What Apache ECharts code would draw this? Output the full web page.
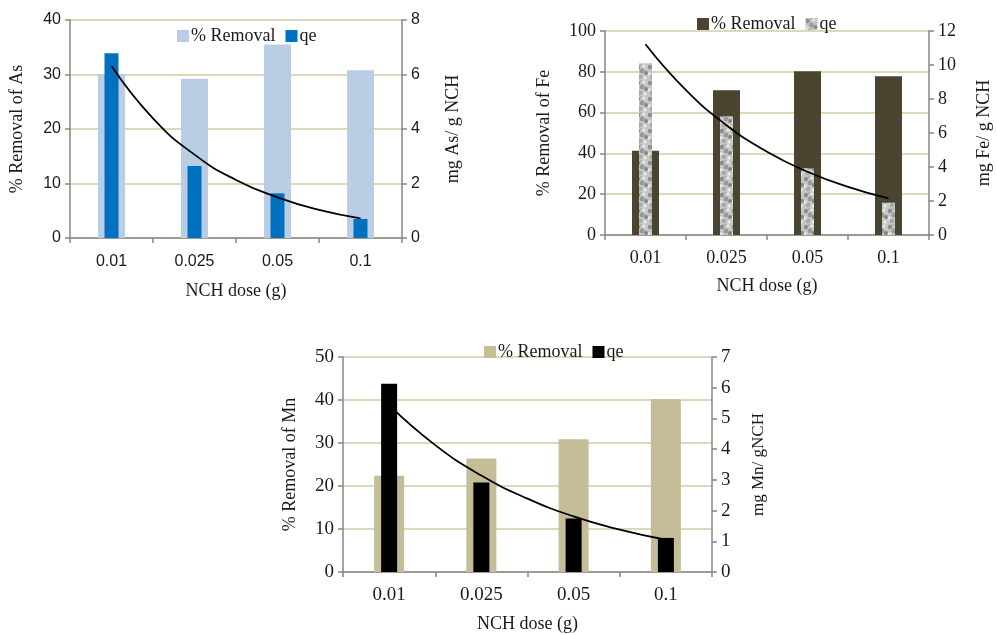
<!DOCTYPE html>
<html>
<head>
<meta charset="utf-8">
<script src="https://cdn.jsdelivr.net/npm/echarts@6/dist/echarts.min.js"></script>
<style>
  html, body { margin: 0; padding: 0; background: #fff; }
  #chart { width: 997px; height: 635px; }
</style>
</head>
<body>
<div id="chart"></div>
<script>
// categories
const doses = ['0.01', '0.025', '0.05', '0.1'];

// As panel
const asRemoval = [30.1, 29.2, 35.5, 30.8];
const asQe = [6.78, 2.64, 1.64, 0.70];
const asTrend = [6.31, 4.39, 3.06, 2.13, 1.49, 1.03, 0.72];

// Fe panel
const feRemoval = [41.3, 71.0, 80.3, 77.8];
const feQe = [10.1, 6.99, 3.92, 1.90];
const feTrend = [11.22, 8.52, 6.46, 4.90, 3.72, 2.83, 2.15];

// Mn panel
const mnRemoval = [22.4, 26.4, 30.9, 40.2];
const mnQe = [6.13, 2.91, 1.74, 1.11];
const mnTrend = [5.43, 4.13, 3.14, 2.39, 1.81, 1.38, 1.05];

// category positions where the trend curve was read
const trendPos = [0, 0.5, 1, 1.5, 2, 2.5, 3];

// grey speckled texture for the Fe qe bars
function speckle() {
  const c = document.createElement('canvas');
  c.width = 12; c.height = 16;
  const g = c.getContext('2d');
  g.fillStyle = '#c6c6c6';
  g.fillRect(0, 0, 12, 16);
  const spots = [
    [2, 3, 2.2, '#8e8e8e'], [8, 2, 1.6, '#eaeaea'], [6, 7, 2.4, '#9a9a9a'],
    [1, 10, 1.8, '#e6e6e6'], [10, 9, 2, '#858585'], [4, 13, 2.2, '#a8a8a8'],
    [9, 14, 1.5, '#efefef'], [5, 1, 1.2, '#b0b0b0']
  ];
  spots.forEach(([x, y, r, col]) => {
    g.fillStyle = col;
    g.beginPath();
    g.arc(x, y, r, 0, Math.PI * 2);
    g.fill();
  });
  return c;
}

const axisGrey = '#878787';
const gridCol = '#dcd8b8';
const textCol = '#1a1a1a';
const serif = 'Liberation Serif';

const panels = [
  {
    key: 'As', grid: { left: 70, top: 20, width: 332, height: 218 },
    removal: asRemoval, qe: asQe, trend: asTrend,
    remColor: '#b9cde5', qeColor: '#0070c0', remW: 27, qeW: 14,
    leftMax: 40, leftInt: 10, rightMax: 8, rightInt: 2,
    tickFont: 'Liberation Sans', tickSize: 16, xMargin: 16,
    leftName: '% Removal of As', rightName: 'mg As/ g NCH',
    leftGap: 44, rightGap: 42, xGap: 44, rightNameSize: 18,
    legend: { left: 172, top: 22 }
  },
  {
    key: 'Fe', grid: { left: 605, top: 31, width: 324, height: 204 },
    removal: feRemoval, qe: feQe, trend: feTrend,
    remColor: '#4a4530', qeColor: { image: speckle(), repeat: 'repeat' }, remW: 27, qeW: 13,
    leftMax: 100, leftInt: 20, rightMax: 12, rightInt: 2,
    tickFont: serif, tickSize: 18, xMargin: 14,
    leftName: '% Removal of Fe', rightName: 'mg Fe/ g NCH',
    leftGap: 52, rightGap: 46, xGap: 42, rightNameSize: 18,
    legend: { left: 692, top: 10 }
  },
  {
    key: 'Mn', grid: { left: 343, top: 357, width: 369, height: 215 },
    removal: mnRemoval, qe: mnQe, trend: mnTrend,
    remColor: '#c4bd97', qeColor: '#000000', remW: 30, qeW: 16,
    leftMax: 50, leftInt: 10, rightMax: 7, rightInt: 1,
    tickFont: serif, tickSize: 19, xMargin: 14,
    leftName: '% Removal of Mn', rightName: 'mg Mn/ gNCH',
    leftGap: 44, rightGap: 38, xGap: 43, rightNameSize: 17,
    legend: { left: 479, top: 338 }
  }
];

const option = {
  animation: false,
  backgroundColor: '#fff',
  textStyle: { fontFamily: serif, color: textCol },
  grid: [], xAxis: [], yAxis: [], series: [], legend: []
};

panels.forEach((p, i) => {
  const tickLabel = { fontFamily: p.tickFont, fontSize: p.tickSize, color: textCol };
  const nameStyle = { fontFamily: serif, fontSize: 18, color: textCol };
  option.grid.push(p.grid);

  // shown category axis, hidden twin for qe bars, hidden value axis for the trend
  option.xAxis.push({
    type: 'category', gridIndex: i, data: doses,
    axisLine: { onZero: false, lineStyle: { color: axisGrey, width: 1.5 } },
    axisTick: { show: true, length: 5, lineStyle: { color: axisGrey, width: 1.5 } },
    axisLabel: Object.assign({ margin: p.xMargin }, tickLabel),
    name: 'NCH dose (g)', nameLocation: 'middle', nameGap: p.xGap, nameTextStyle: nameStyle
  });
  option.xAxis.push({ type: 'category', gridIndex: i, data: doses, show: false });
  option.xAxis.push({ type: 'value', gridIndex: i, min: -0.5, max: 3.5, show: false });

  option.yAxis.push({
    type: 'value', gridIndex: i, position: 'left', min: 0, max: p.leftMax, interval: p.leftInt,
    axisLine: { show: true, onZero: false, lineStyle: { color: axisGrey, width: 1.5 } },
    axisTick: { show: true, length: 5, lineStyle: { color: axisGrey, width: 1.5 } },
    axisLabel: Object.assign({ margin: 9 }, tickLabel),
    splitLine: { show: true, lineStyle: { color: gridCol, width: 2 } },
    name: p.leftName, nameLocation: 'middle', nameGap: p.leftGap, nameTextStyle: nameStyle
  });
  option.yAxis.push({
    type: 'value', gridIndex: i, position: 'right', min: 0, max: p.rightMax, interval: p.rightInt,
    axisLine: { show: true, onZero: false, lineStyle: { color: axisGrey, width: 1.5 } },
    axisTick: { show: true, length: 5, lineStyle: { color: axisGrey, width: 1.5 } },
    axisLabel: Object.assign({ margin: 9 }, tickLabel),
    splitLine: { show: false },
    name: p.rightName, nameLocation: 'middle', nameGap: p.rightGap, nameRotate: 90,
    nameTextStyle: Object.assign({}, nameStyle, { fontSize: p.rightNameSize })
  });

  const xi = i * 3, yi = i * 2;
  option.series.push({
    name: p.key + '|% Removal', type: 'bar', xAxisIndex: xi, yAxisIndex: yi,
    data: p.removal, barWidth: p.remW, itemStyle: { color: p.remColor }
  });
  option.series.push({
    name: p.key + '|qe', type: 'bar', xAxisIndex: xi + 1, yAxisIndex: yi + 1,
    data: p.qe, barWidth: p.qeW, itemStyle: { color: p.qeColor }
  });
  option.series.push({
    name: p.key + '|trend', type: 'line', xAxisIndex: xi + 2, yAxisIndex: yi + 1,
    data: trendPos.map((x, k) => [x, p.trend[k]]),
    smooth: true, showSymbol: false, z: 5,
    lineStyle: { color: '#000', width: 1.8 }
  });

  option.legend.push({
    left: p.legend.left, top: p.legend.top, orient: 'horizontal',
    data: [p.key + '|% Removal', p.key + '|qe'],
    icon: 'rect', itemWidth: 12, itemHeight: 12, itemGap: 10,
    selectedMode: false,
    formatter: name => name.split('|')[1],
    textStyle: { fontFamily: serif, fontSize: 18, color: textCol, padding: [0, 0, 0, -3] }
  });
});

const chart = echarts.init(document.getElementById('chart'));
chart.setOption(option);
</script>
</body>
</html>
